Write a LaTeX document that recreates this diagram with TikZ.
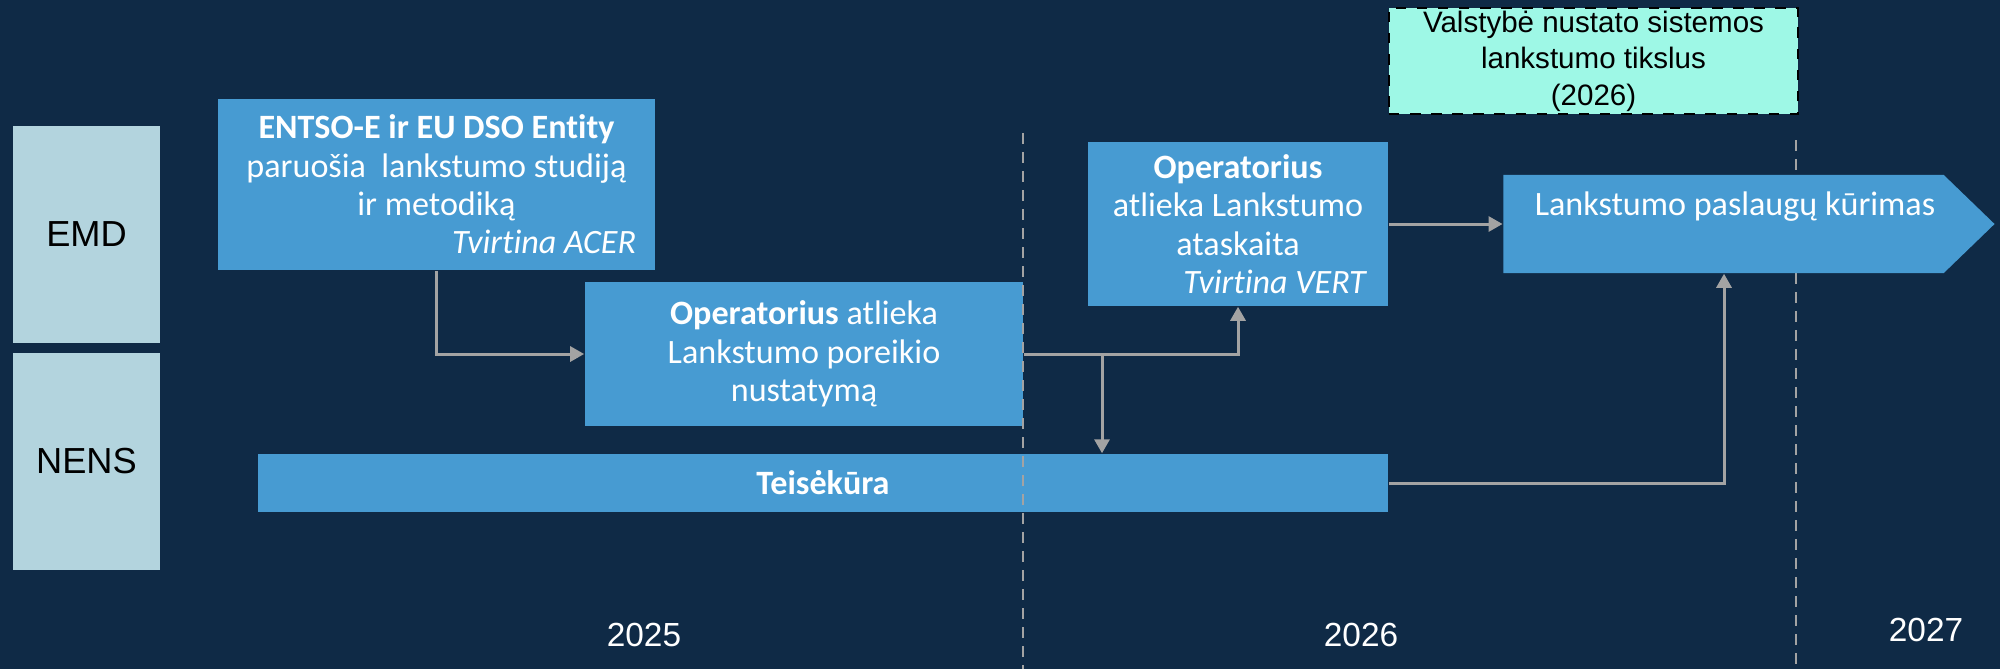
\documentclass[tikz,border=0pt]{standalone}
\usepackage{fontspec}
\setmainfont{Carlito}[Ligatures=NoCommon]
\newfontfamily\arialf{Liberation Sans}
\usetikzlibrary{arrows.meta,shapes.symbols}
\definecolor{navy}{HTML}{0F2A46}
\definecolor{stepblue}{HTML}{479BD2}
\definecolor{lanelight}{HTML}{B3D4DE}
\definecolor{goalgreen}{HTML}{9EF8E6}
\definecolor{linkgray}{HTML}{A3A3A3}

\begin{document}
\begin{tikzpicture}[x=0.01cm,y=-0.01cm,
	lane/.style={fill=lanelight,text=black,minimum width=1.47cm,minimum height=2.17cm,
		font=\arialf\fontsize{10.3}{12}\selectfont},
	stepbox/.style={fill=stepblue,text=white,align=flush center,inner sep=0pt,
		font=\fontsize{9.7}{10.9}\selectfont},
	link/.style={draw=linkgray,line width=0.85pt,-{Triangle[width=0.15cm,length=0.14cm]}},
	yearline/.style={draw=linkgray,line width=0.8pt,dash pattern=on 0.11cm off 0.08cm},
	year/.style={text=white,font=\arialf\fontsize{9.5}{11}\selectfont}]
	
	% --- background ---
	\fill[navy] (0,0) rectangle (2000,669);
	\useasboundingbox (0,0) rectangle (2000,669);
	
	% --- lanes ---
	\node[lane] (emd) at (86.5,234.5) {EMD};
	\node[lane] (nens) at (86.5,461.5) {NENS};
	
	% --- steps ---
	\node[stepbox,minimum width=4.37cm,minimum height=1.71cm,text width=3.99cm] (entso) at (436.5,184.5)
	{\textbf{ENTSO-E ir EU DSO Entity}\\ paruošia\ \ lankstumo studiją\\ ir metodiką\\
		\makebox[3.99cm][r]{\textit{Tvirtina ACER}}};
	\node[stepbox,minimum width=4.38cm,minimum height=1.44cm] (poreikis) at (804,354)
	{\textbf{Operatorius} atlieka\\ Lankstumo poreikio\\ nustatymą};
	\node[stepbox,minimum width=11.3cm,minimum height=0.58cm] (teis) at (823,483)
	{\textbf{Teisėkūra}};
	\node[stepbox,minimum width=3cm,minimum height=1.64cm,text width=2.58cm] (ataskaita) at (1238,224)
	{\textbf{Operatorius}\\ atlieka Lankstumo\\ ataskaita\\
		\makebox[2.58cm][r]{\textit{Tvirtina VERT}}};
	
	% year borders (dashed)
	\draw[yearline] (1023,133) -- (1023,669);
	\draw[yearline] (1796,140) -- (1796,669);
	
	% final step (arrow shape)
	\node[signal,signal to=east,signal pointer angle=88,fill=stepblue,inner sep=0pt,
	minimum width=4.91cm,minimum height=0.98cm] (paslaugos) at (1723.5,224) {};
	\node[text=white,font=\fontsize{9.7}{10.9}\selectfont] (paslaugostxt) at (1735,207)
	{Lankstumo paslaugų kūrimas};
	
	% state goal
	\node[draw=black,dashed,line width=0.6pt,fill=goalgreen,align=center,inner sep=0pt,
	minimum width=4.09cm,minimum height=1.06cm,font=\arialf\fontsize{8.4}{10.4}\selectfont] (valstybe) at (1593.5,61)
	{Valstybė nustato sistemos\\ lankstumo tikslus\\ (2026)};
	
	% --- connectors ---
	\coordinate (split) at (1102,354);
	\coordinate (rise) at (1724,483);
	\draw[link] (entso.south) |- (poreikis.west);
	\draw[link] (poreikis.east) -| (ataskaita.south);
	\draw[link] (split) -- (split |- teis.north);
	\draw[link] (ataskaita.east) -- (paslaugos.west);
	\draw[link] (teis.east) -- (rise) -- (rise |- paslaugos.south);
	
	% --- years ---
	\node[year] (y2025) at (644,635) {2025};
	\node[year] (y2026) at (1361,635) {2026};
	\node[year] (y2027) at (1926,630) {2027};
	
\end{tikzpicture}
\end{document}
